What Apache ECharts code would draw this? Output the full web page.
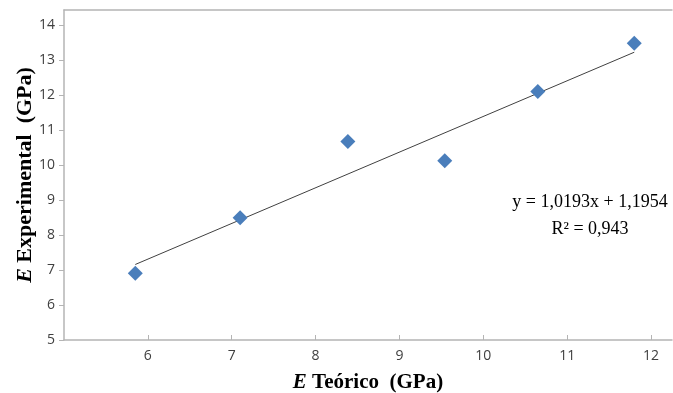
<!DOCTYPE html>
<html>
<head>
<meta charset="utf-8">
<script src="https://cdn.jsdelivr.net/npm/echarts@6/dist/echarts.min.js"></script>
<style>
  html, body { margin: 0; padding: 0; background: #fff; }
  #chart { width: 673px; height: 393px; }
</style>
</head>
<body>
<div id="chart"></div>
<script>
// E teórico vs E experimental (GPa)
const eTeorico = [5.85, 7.10, 8.385, 9.54, 10.65, 11.80]
const eExperimental = [6.91, 8.49, 10.67, 10.12, 12.10, 13.48]
const xTicks = [6, 7, 8, 9, 10, 11, 12]
const yTicks = [5, 6, 7, 8, 9, 10, 11, 12, 13, 14]

// trendline as printed on the chart
const slope = 1.0193
const intercept = 1.1954
const trendX = [eTeorico[0], eTeorico[eTeorico.length - 1]]

const axisGray = '#b4b4b4'
const labelColor = '#404040'

const titleStyle = size => ({
  fontFamily: 'Liberation Serif',
  fontWeight: 'bold',
  fontSize: size,
  color: '#000',
  rich: {
    i: { fontFamily: 'Liberation Serif', fontWeight: 'bold', fontStyle: 'italic', fontSize: size, color: '#000' }
  }
})

const chart = echarts.init(document.getElementById('chart'))

chart.setOption({
  animation: false,
  grid: { left: 64, right: 1, top: 10, bottom: 53, outerBoundsMode: 'none', containLabel: false },
  xAxis: [
    {
      type: 'value',
      min: 5,
      max: 12.25,
      axisLine: { show: true, lineStyle: { color: axisGray, width: 1.5 } },
      axisTick: { show: true, inside: true, length: 5, customValues: xTicks, lineStyle: { color: axisGray } },
      axisLabel: {
        customValues: xTicks,
        color: labelColor,
        fontFamily: 'Open Sans',
        fontSize: 14,
        margin: 9
      },
      splitLine: { show: false },
      name: '{i|E} Teórico  (GPa)',
      nameLocation: 'middle',
      nameGap: 32,
      nameMoveOverlap: false,
      nameTextStyle: titleStyle(21)
    },
    {
      // top border of the plot area
      type: 'value',
      position: 'top',
      min: 5,
      max: 12.25,
      axisLine: { show: true, lineStyle: { color: axisGray, width: 1.5 } },
      axisTick: { show: false },
      axisLabel: { show: false },
      splitLine: { show: false }
    }
  ],
  yAxis: {
    type: 'value',
    min: 5,
    max: 14.43,
    axisLine: { show: true, lineStyle: { color: axisGray, width: 1.5 } },
    axisTick: { show: true, length: 5, customValues: yTicks, lineStyle: { color: axisGray } },
    axisLabel: {
      customValues: yTicks,
      color: labelColor,
      fontFamily: 'Open Sans',
      fontSize: 14,
      margin: 9
    },
    splitLine: { show: false },
    name: '{i|E} Experimental  (GPa)',
    nameLocation: 'middle',
    nameGap: 28,
    nameMoveOverlap: false,
    nameTextStyle: titleStyle(22)
  },
  series: [
    {
      type: 'line',
      data: trendX.map(x => [x, slope * x + intercept]),
      symbol: 'none',
      lineStyle: { color: '#404040', width: 1 },
      z: 1
    },
    {
      type: 'scatter',
      data: eTeorico.map((x, i) => [x, eExperimental[i]]),
      symbol: 'diamond',
      symbolSize: [15, 15],
      itemStyle: { color: '#4a7ebb', opacity: 1 },
      z: 2
    }
  ],
  graphic: [
    {
      type: 'text',
      x: 590,
      y: 189,
      style: {
        text: 'y = 1,0193x + 1,1954\nR² = 0,943',
        align: 'center',
        verticalAlign: 'top',
        fontFamily: 'Liberation Serif',
        fontSize: 18,
        lineHeight: 27,
        fill: '#000'
      }
    }
  ]
})
</script>
</body>
</html>
